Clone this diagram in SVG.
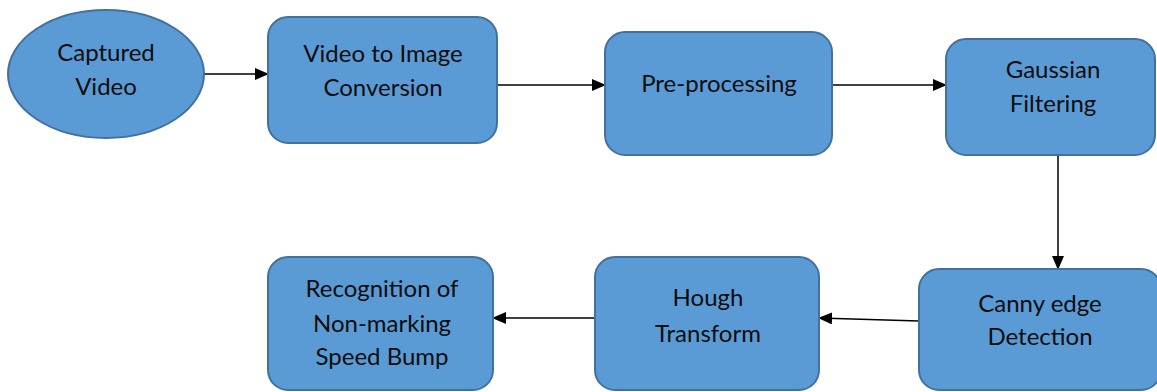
<svg xmlns="http://www.w3.org/2000/svg" width="1157" height="392" viewBox="0 0 1157 392">
<style>
.n{fill:#5B9BD5;stroke:#41719C;stroke-width:2}
.t{font-family:Lato,"Open Sans","Liberation Sans",sans-serif;font-size:24px;fill:#0d0d0d;text-anchor:middle}
.c{stroke:#000;stroke-width:1.5;fill:none;marker-end:url(#ah)}
</style>
<defs>
<marker id="ah" markerWidth="14" markerHeight="12" refX="13" refY="6" orient="auto" markerUnits="userSpaceOnUse">
<path d="M0,0 L14,6 L0,12 Z" fill="#000"/>
</marker>
</defs>
<rect width="1157" height="392" fill="#fff"/>
<g id="connectors">
<line class="c" x1="204" y1="74" x2="268" y2="74"/>
<line class="c" x1="497" y1="85" x2="605" y2="85"/>
<line class="c" x1="832" y1="85" x2="946" y2="85"/>
<line class="c" x1="1058" y1="155" x2="1058" y2="269"/>
<line class="c" x1="919" y1="321" x2="819" y2="318"/>
<line class="c" x1="595" y1="318" x2="493" y2="318"/>
</g>
<g id="captured-video">
<ellipse class="n" cx="106" cy="74" rx="98" ry="64"/>
<text class="t" x="106" y="61">Captured</text>
<text class="t" x="106" y="95">Video</text>
</g>
<g id="video-to-image">
<rect class="n" x="268" y="17" width="229" height="126" rx="20"/>
<text class="t" x="383" y="62">Video to Image</text>
<text class="t" x="383" y="96">Conversion</text>
</g>
<g id="pre-processing">
<rect class="n" x="605" y="32" width="227" height="123" rx="20"/>
<text class="t" x="719" y="92">Pre-processing</text>
</g>
<g id="gaussian-filtering">
<rect class="n" x="946" y="39" width="209" height="116" rx="20"/>
<text class="t" x="1053" y="78">Gaussian</text>
<text class="t" x="1053" y="112">Filtering</text>
</g>
<g id="canny-edge">
<rect class="n" x="919" y="269" width="242" height="121" rx="20"/>
<text class="t" x="1040" y="312">Canny edge</text>
<text class="t" x="1040" y="345">Detection</text>
</g>
<g id="hough">
<rect class="n" x="595" y="257" width="224" height="133" rx="20"/>
<text class="t" x="708" y="306">Hough</text>
<text class="t" x="708" y="342">Transform</text>
</g>
<g id="recognition">
<rect class="n" x="268" y="257" width="225" height="133" rx="20"/>
<text class="t" x="382" y="297">Recognition of</text>
<text class="t" x="382" y="332">Non-marking</text>
<text class="t" x="382" y="365">Speed Bump</text>
</g>
</svg>
